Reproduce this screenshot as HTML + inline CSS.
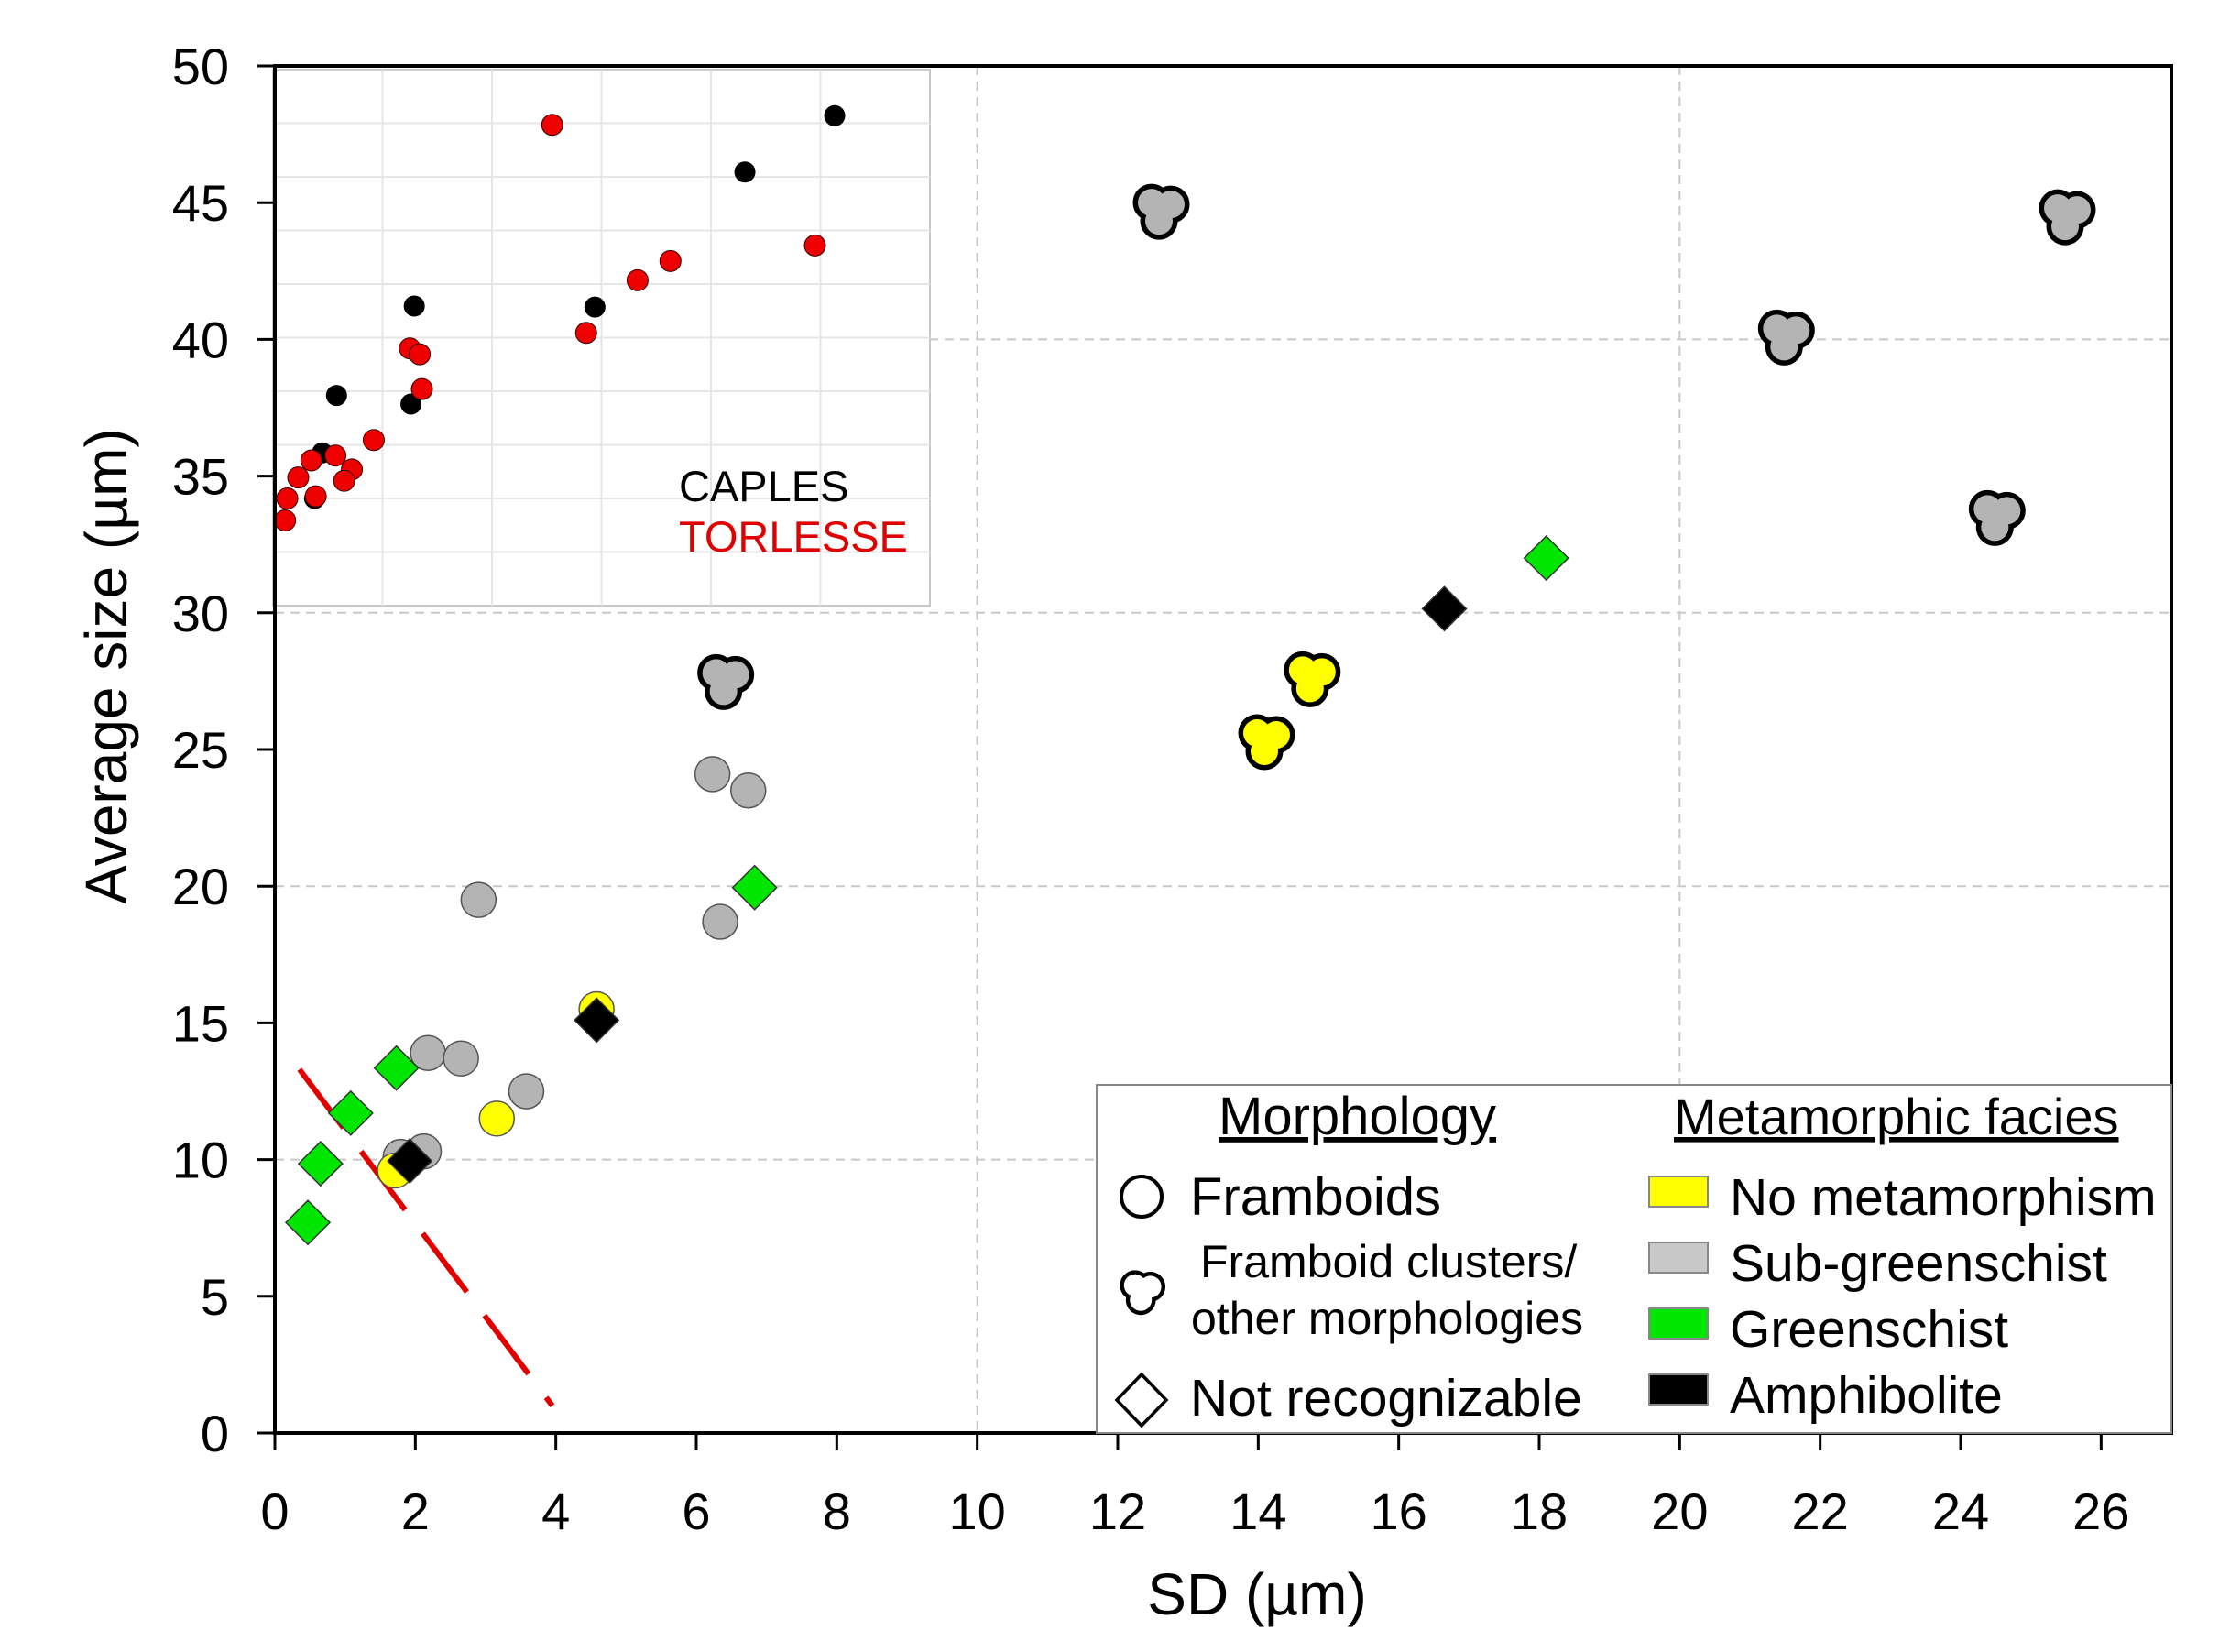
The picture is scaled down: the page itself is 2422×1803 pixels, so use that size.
<!DOCTYPE html>
<html><head><meta charset="utf-8"><style>
html,body{margin:0;padding:0;background:#fff;}
svg{display:block;font-family:"Liberation Sans",sans-serif;}
</style></head><body>
<svg id="chart" width="2422" height="1803" viewBox="0 0 2422 1803" xmlns="http://www.w3.org/2000/svg"></svg>
<script>
// ---- main chart data ----
const xTicks = [0,2,4,6,8,10,12,14,16,18,20,22,24,26];
const yTicks = [0,5,10,15,20,25,30,35,40,45,50];
const clusterX = [12.6,25.5,21.5,24.5,6.4,14.75,14.1];
const clusterY = [44.7,44.5,40.1,33.5,27.5,27.6,25.3];
const clusterFacies = ['sub','sub','sub','sub','sub','none','none'];
const framboidX = [6.23,6.74,2.9,6.34,2.18,2.65,3.58,1.79,2.12,4.58,3.16,1.71];
const framboidY = [24.1,23.5,19.5,18.7,13.9,13.7,12.5,10.1,10.3,15.5,11.5,9.6];
const framboidFacies = ['sub','sub','sub','sub','sub','sub','sub','sub','sub','none','none','none'];
const diamondX = [18.1,6.83,1.73,1.08,0.65,0.47,16.65,4.58,1.92];
const diamondY = [32.0,19.95,13.35,11.7,9.85,7.7,30.15,15.1,9.95];
const diamondFacies = ['green','green','green','green','green','green','amph','amph','amph'];
const lineX = [0.35,3.95];
const lineY = [13.3,1.0];
// ---- inset data ----
const caplesX = [5.13,4.31,2.94,1.29,0.58,1.26,0.45,0.38];
const caplesY = [9.14,8.09,5.57,5.59,3.92,3.76,2.85,2.0];
const torlesseX = [2.55,4.95,3.63,3.33,2.86,1.25,1.34,1.36,0.92,0.57,0.35,0.72,0.65,0.23,0.39,0.13,0.11];
const torlesseY = [8.97,6.72,6.43,6.07,5.09,4.80,4.69,4.04,3.09,2.80,2.71,2.54,2.33,2.39,2.04,2.0,1.59];

const colors = {none:'#ffff00',sub:'#b4b4b4',green:'#00e600',amph:'#000000'};
const NS='http://www.w3.org/2000/svg';
const svg=document.getElementById('chart');
const L=300,R=2370,T=72,B=1564;
const sx=v=>L+v*(R-L)/27;
const sy=v=>B-v*(B-T)/50;
const IL=298,IR=1015,IT=76,IB=661;
const isx=v=>IL+v*(IR-IL)/6;
const isy=v=>IB-v*(IB-IT)/10;
function mk(tag,attrs,parent){const e=document.createElementNS(NS,tag);for(const k in attrs)e.setAttribute(k,attrs[k]);(parent||svg).appendChild(e);return e;}

// grid
const grid=mk('g',{});


[10,20].forEach(v=>mk('line',{x1:sx(v),x2:sx(v),y1:T,y2:B,stroke:'#c8c8c8','stroke-width':2,'stroke-dasharray':'10,7'},grid));
[10,20,30,40].forEach(v=>mk('line',{x1:L,x2:R,y1:sy(v),y2:sy(v),stroke:'#c8c8c8','stroke-width':2,'stroke-dasharray':'10,7'},grid));

// inset
const inset=mk('g',{});


mk('rect',{x:IL,y:IT,width:IR-IL,height:IB-IT,fill:'#fff',stroke:'#c8c8c8','stroke-width':2},inset);
for(let k=1;k<6;k++)mk('line',{x1:isx(k),x2:isx(k),y1:IT,y2:IB,stroke:'#e6e6e6','stroke-width':2},inset);
for(let k=1;k<10;k++)mk('line',{x1:IL,x2:IR,y1:isy(k),y2:isy(k),stroke:'#e6e6e6','stroke-width':2},inset);
caplesX.forEach((x,i)=>{const c=mk('circle',{cx:isx(x),cy:isy(caplesY[i]),r:11,fill:'#000',stroke:'#000','stroke-width':1},inset);

});
torlesseX.forEach((x,i)=>{const c=mk('circle',{cx:isx(x),cy:isy(torlesseY[i]),r:11.5,fill:'#ee0000',stroke:'#300','stroke-width':1},inset);

});
let t=mk('text',{x:741,y:547,'font-size':47,fill:'#000'},inset);t.textContent='CAPLES';


t=mk('text',{x:741,y:602,'font-size':47,fill:'#e00000'},inset);t.textContent='TORLESSE';



// dashed red line
const ln=mk('line',{x1:sx(lineX[0]),y1:sy(lineY[0]),x2:sx(lineX[1]),y2:sy(lineY[1]),stroke:'#e00000','stroke-width':6,'stroke-dasharray':'80,32'});



function cluster(cx,cy,fill,parent,s){s=s||1;const g=mk('g',{},parent);
const offs=[[-9,-9],[12,-7],[-1,11]];
offs.forEach(o=>mk('circle',{cx:cx+o[0]*s,cy:cy+o[1]*s,r:15*s,fill:'#000',stroke:'#000','stroke-width':11*s},g));
offs.forEach(o=>mk('circle',{cx:cx+o[0]*s,cy:cy+o[1]*s,r:15*s,fill:fill},g));
return g;}

// framboids
framboidX.forEach((x,i)=>{const c=mk('circle',{cx:sx(x),cy:sy(framboidY[i]),r:19,fill:colors[framboidFacies[i]],stroke:'#555','stroke-width':1.5});

});
// clusters
clusterX.forEach((x,i)=>{const g=cluster(sx(x),sy(clusterY[i]),colors[clusterFacies[i]]);

});
// diamonds
diamondX.forEach((x,i)=>{const cx=sx(x),cy=sy(diamondY[i]),d=24;
const p=mk('polygon',{points:`${cx},${cy-d} ${cx+d},${cy} ${cx},${cy+d} ${cx-d},${cy}`,fill:colors[diamondFacies[i]],stroke:'#333','stroke-width':1.5});

});

// axes frame
mk('path',{d:`M${L},${T} H${R} V${B} H${L} Z`,fill:'none',stroke:'#000','stroke-width':4});
xTicks.forEach(v=>{mk('line',{x1:sx(v),x2:sx(v),y1:B,y2:B+19,stroke:'#000','stroke-width':3});
const tx=mk('text',{x:sx(v),y:1669,'font-size':56,'text-anchor':'middle'});tx.textContent=v;

});
yTicks.forEach(v=>{mk('line',{x1:L-19,x2:L,y1:sy(v),y2:sy(v),stroke:'#000','stroke-width':3});
const tx=mk('text',{x:250,y:sy(v)+20,'font-size':56,'text-anchor':'end'});tx.textContent=v;

});
t=mk('text',{x:1372,y:1762,'font-size':64,'text-anchor':'middle'});t.textContent='SD (µm)';


t=mk('text',{x:0,y:0,'font-size':64,'text-anchor':'middle',transform:'translate(138,727) rotate(-90)'});t.textContent='Average size (µm)';



// legend
const lg=mk('g',{});


mk('rect',{x:1197,y:1184,width:1173,height:380,fill:'#fff',stroke:'#888','stroke-width':2},lg);
function lt(x,y,s,size,name,ul){const e=mk('text',{x:x,y:y,'font-size':size},lg);e.textContent=s;
if(ul)e.setAttribute('text-decoration','underline');

return e;}
lt(1330,1238,'Morphology',58,'legend-morphology-title',true);
lt(1827,1238,'Metamorphic facies',56,'legend-facies-title',true);
mk('circle',{cx:1246,cy:1306,r:22,fill:'none',stroke:'#000','stroke-width':4},lg);
lt(1299,1326,'Framboids',58,'legend-framboids');
cluster(1246,1410,'#fff',lg,0.8);
lt(1310,1394,'Framboid clusters/',50,'legend-clusters');
lt(1300,1456,'other morphologies',50,'legend-clusters-2');
mk('polygon',{points:'1246,1500 1273,1528 1246,1556 1219,1528',fill:'#fff',stroke:'#000','stroke-width':3.5},lg);
lt(1299,1545,'Not recognizable',57,'legend-not-recognizable');
[['#ffff00',1284,'No metamorphism'],['#c8c8c8',1356,'Sub-greenschist'],['#00e600',1428,'Greenschist'],['#000',1500,'Amphibolite']].forEach((r,i)=>{
mk('rect',{x:1800,y:r[1],width:64,height:33,fill:r[0],stroke:'#888','stroke-width':2},lg);
lt(1888,r[1]+42,r[2],57,'legend-facies-'+i);});
</script>
</body></html>
